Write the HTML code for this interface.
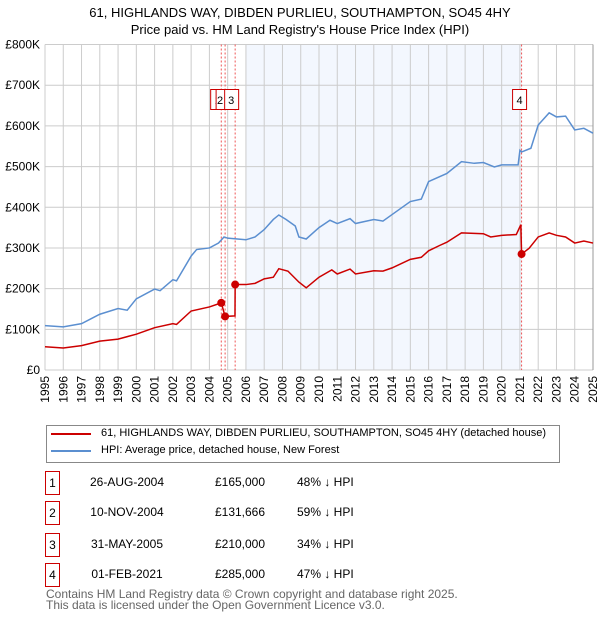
<!DOCTYPE html>
<html><head><meta charset="utf-8"><style>
body{margin:0;background:#fff;font-family:"Liberation Sans","DejaVu Sans",sans-serif;}
#wrap{position:relative;width:600px;height:620px;overflow:hidden}
.t{position:absolute;color:#000;white-space:nowrap}
</style></head><body><div id="wrap">
<div class="t" style="left:0;width:600px;text-align:center;top:4px;font-size:13px;line-height:17px">61, HIGHLANDS WAY, DIBDEN PURLIEU, SOUTHAMPTON, SO45 4HY<br>Price paid vs. HM Land Registry's House Price Index (HPI)</div>
<svg id="chart" width="600" height="410" style="position:absolute;left:0;top:0" font-family="Liberation Sans, DejaVu Sans, sans-serif"></svg>
<div style="position:absolute;left:46px;top:425px;width:512px;height:36px;border:1px solid #888"></div>
<div style="position:absolute;left:51px;top:433px;width:40px;height:2px;background:#cc0000"></div>
<div class="t" style="left:101px;top:427px;font-size:11px">61, HIGHLANDS WAY, DIBDEN PURLIEU, SOUTHAMPTON, SO45 4HY (detached house)</div>
<div style="position:absolute;left:51px;top:450px;width:40px;height:2px;background:#5b8fd0"></div>
<div class="t" style="left:101px;top:444px;font-size:11px">HPI: Average price, detached house, New Forest</div>
<div id="tbl"></div>
<div class="t" style="left:46px;top:589px;font-size:12px;line-height:11px;color:#666">Contains HM Land Registry data © Crown copyright and database right 2025.<br>This data is licensed under the Open Government Licence v3.0.</div>
</div>
<script>
const hpiYears=[1995,1996,1997,1998,1999,1999.5,2000,2001,2001.3,2002,2002.2,2003,2003.3,2004,2004.5,2004.8,2005,2006,2006.5,2007,2007.5,2007.8,2008.2,2008.7,2008.9,2009.3,2010,2010.6,2011,2011.7,2012,2012.5,2013,2013.5,2014,2015,2015.6,2016,2017,2017.8,2018.5,2019,2019.6,2020,2020.9,2021.0,2021.1,2021.6,2022,2022.6,2023,2023.5,2024,2024.5,2025];
const hpiValues=[109,106,114,137,151,147,175,199,195,222,219,280,296,300,312,327,324,320,327,345,370,381,370,354,327,322,350,368,360,372,360,365,370,366,382,414,420,463,483,512,508,510,499,504,504,540,536,545,602,632,622,624,590,594,582];
const ppYears=[1995,1996,1997,1998,1999,2000,2001,2002,2002.2,2003,2004,2004.65,2004.86,2005.4,2005.41,2006,2006.5,2007,2007.5,2007.8,2008.3,2008.9,2009.3,2010,2010.7,2011,2011.7,2012,2013,2013.5,2014,2015,2015.6,2016,2016.6,2017,2017.8,2019,2019.4,2020,2020.8,2021.05,2021.09,2021.5,2022,2022.6,2023,2023.5,2024,2024.5,2025];
const ppValues=[57,54,60,71,76,88,104,114,112,145,155,165,131.666,133,210,210,213,224,228,249,243,216,202,228,246,236,248,236,244,243,251,272,277,293,306,314,337,335,327,331,333,357,285,299,327,337,331,327,312,317,312];
const saleYears=[2004.65,2004.86,2005.41,2021.09];
const saleValues=[165,131.666,210,285];
const saleLabels=["1","2","3","4"];
const saleDates=["26-AUG-2004","10-NOV-2004","31-MAY-2005","01-FEB-2021"];
const salePrices=["£165,000","£131,666","£210,000","£285,000"];
const saleHpi=["48% ↓ HPI","59% ↓ HPI","34% ↓ HPI","47% ↓ HPI"];
const yTicks=[0,100,200,300,400,500,600,700,800];
const yTickLabels=["£0","£100K","£200K","£300K","£400K","£500K","£600K","£700K","£800K"];
const xTicks=[1995,1996,1997,1998,1999,2000,2001,2002,2003,2004,2005,2006,2007,2008,2009,2010,2011,2012,2013,2014,2015,2016,2017,2018,2019,2020,2021,2022,2023,2024,2025];

const L=45,R=593,T=44.5,B=370;
const X=y=>L+(y-1995)/30*(R-L);
const Y=v=>B-v/800*(B-T);
const svg=document.getElementById('chart');
const NS='http://www.w3.org/2000/svg';
function mk(tag,at,name){const e=document.createElementNS(NS,tag);for(const k in at)e.setAttribute(k,at[k]);


svg.appendChild(e);return e;}
mk('rect',{x:X(2006),y:T,width:X(2021.09)-X(2006),height:B-T,fill:'#eef3fd',opacity:0.7},'shaded-period');
xTicks.forEach(t=>{mk('line',{x1:X(t),x2:X(t),y1:T,y2:B,stroke:'#cccccc','stroke-width':1},'x-gridline');
const tx=mk('text',{x:0,y:0,'font-size':12,'text-anchor':'end',transform:`translate(${X(t)+4},${B+6}) rotate(-90)`},'x-tick-label');tx.textContent=t;});
yTicks.forEach((t,i)=>{mk('line',{x1:L,x2:R,y1:Y(t),y2:Y(t),stroke:'#cccccc','stroke-width':1},'y-gridline');
const tx=mk('text',{x:40,y:Y(t)+4,'font-size':12,'text-anchor':'end'},'y-tick-label');tx.textContent=yTickLabels[i];});
mk('line',{x1:R,x2:R,y1:T,y2:B,stroke:'#999','stroke-width':1},'right-edge');
saleYears.forEach(s=>mk('line',{x1:X(s),x2:X(s),y1:T,y2:B,stroke:'#ee5555','stroke-width':1,'stroke-dasharray':'2,2'},'sale-marker-line'));
mk('polyline',{points:hpiYears.map((y,i)=>X(y)+','+Y(hpiValues[i])).join(' '),fill:'none',stroke:'#5b8fd0','stroke-width':1.5},'hpi-line');
mk('polyline',{points:ppYears.map((y,i)=>X(y)+','+Y(ppValues[i])).join(' '),fill:'none',stroke:'#cc0000','stroke-width':1.5},'price-paid-line');
saleYears.forEach((s,i)=>mk('circle',{cx:X(s),cy:Y(saleValues[i]),r:4,fill:'#cc0000'},'sale-point'));
const boxOff=[-3.6,-2,-3.5,-2];
const txtOff=[-3.6,-5,-4,-2];
saleYears.forEach((s,i)=>{const cx=X(s)+boxOff[i];
mk('rect',{x:cx-7,y:89.5,width:14,height:20,fill:'#fff',stroke:'#cc0000','stroke-width':1},'sale-badge');
const tx=mk('text',{x:X(s)+txtOff[i],y:104,'font-size':11,'text-anchor':'middle'},'sale-badge-label');tx.textContent=saleLabels[i];});
const tbl=document.getElementById('tbl');let h='';
const rowsY=[483,513,545,575];
saleLabels.forEach((l,i)=>{const y=rowsY[i];
h+=`<div style="position:absolute;left:45px;top:${y-12}px;width:13px;height:22px;border:1px solid #cc0000;font-size:12px;line-height:22px;text-align:center">${l}</div>`;
h+=`<div class="t" style="left:77px;width:100px;text-align:center;top:${y-8}px;font-size:12px">${saleDates[i]}</div>`;
h+=`<div class="t" style="left:200px;width:80px;text-align:center;top:${y-8}px;font-size:12px">${salePrices[i]}</div>`;
h+=`<div class="t" style="left:297px;top:${y-8}px;font-size:12px">${saleHpi[i]}</div>`;});
tbl.innerHTML=h;
</script></body></html>
